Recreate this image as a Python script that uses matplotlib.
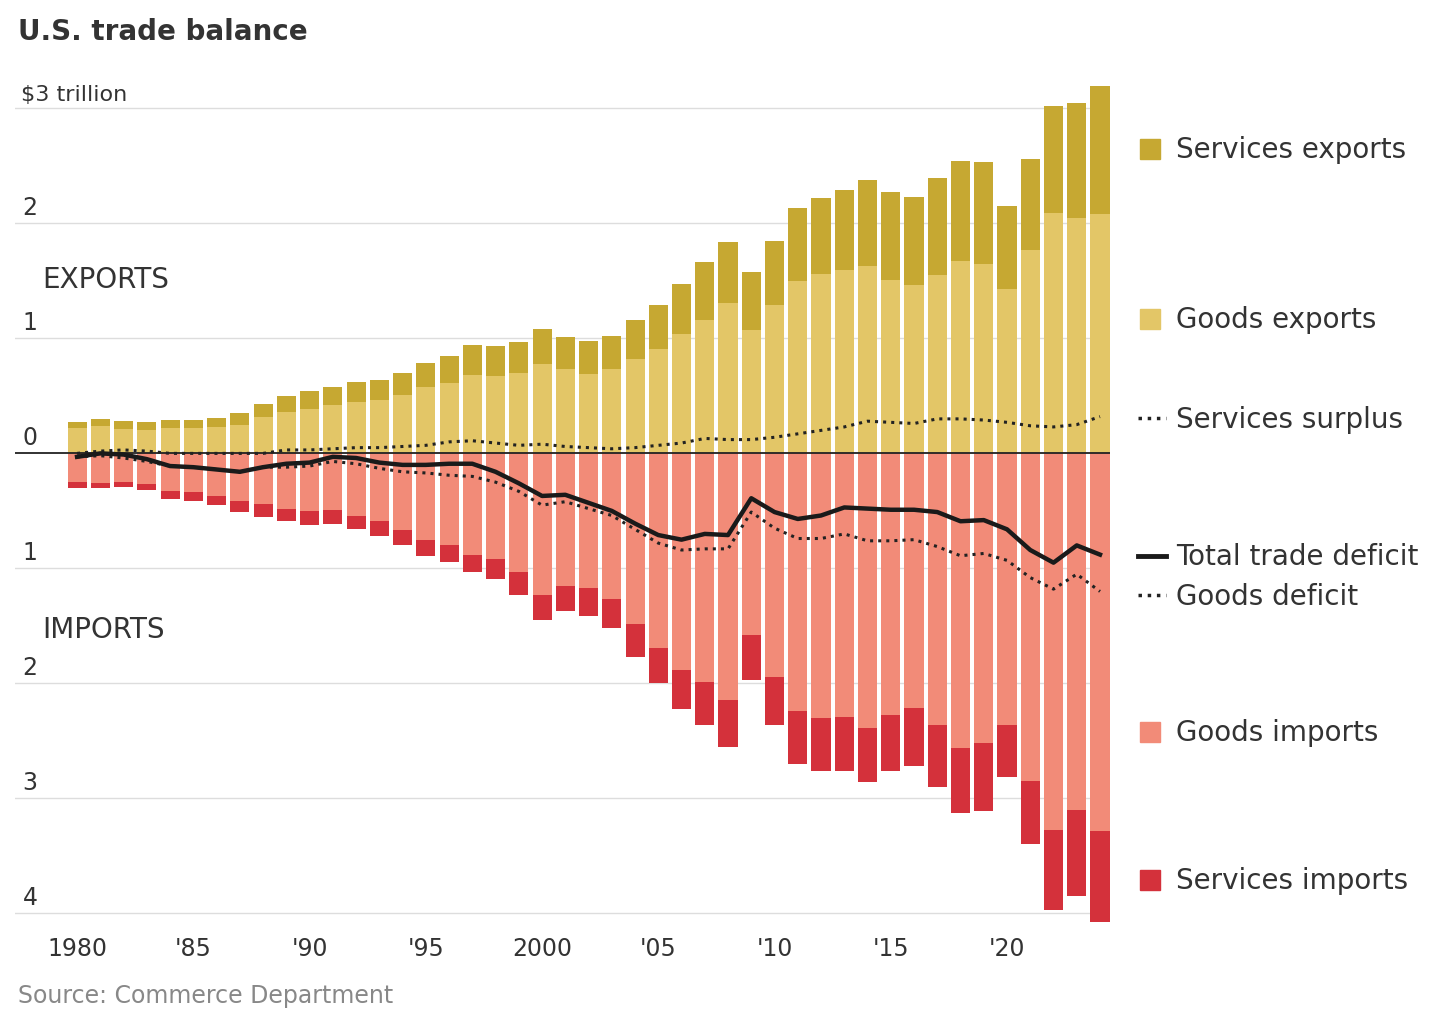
import numpy as np
import matplotlib; matplotlib.use('Agg')
import matplotlib.pyplot as plt

years = np.arange(1980, 2025)
# trillions of dollars
exports_total = [0.27,0.30,0.28,0.27,0.29,0.29,0.31,0.35,0.43,0.50,0.54,0.58,0.62,0.64,0.70,0.79,0.85,0.94,0.93,0.97,
                 1.08,1.01,0.98,1.02,1.16,1.29,1.47,1.66,1.84,1.58,1.85,2.13,2.22,2.29,2.38,2.27,2.23,2.39,2.54,2.53,
                 2.15,2.56,3.02,3.05,3.19]
goods_exports = [0.22,0.24,0.21,0.20,0.22,0.22,0.23,0.25,0.32,0.36,0.39,0.42,0.45,0.46,0.51,0.58,0.61,0.68,0.67,0.70,
                 0.78,0.73,0.69,0.73,0.82,0.91,1.04,1.16,1.31,1.07,1.29,1.50,1.56,1.59,1.63,1.51,1.46,1.55,1.67,1.65,
                 1.43,1.77,2.09,2.05,2.08]
goods_imports = [0.25,0.26,0.25,0.27,0.33,0.34,0.37,0.41,0.44,0.48,0.50,0.49,0.54,0.59,0.67,0.75,0.80,0.88,0.92,1.03,
                 1.23,1.15,1.17,1.27,1.48,1.69,1.88,1.99,2.14,1.58,1.94,2.24,2.30,2.29,2.39,2.27,2.21,2.36,2.56,2.52,
                 2.36,2.85,3.27,3.10,3.28]
imports_total = [0.30,0.30,0.29,0.32,0.40,0.41,0.45,0.51,0.55,0.59,0.62,0.61,0.66,0.72,0.80,0.89,0.94,1.03,1.09,1.23,
                 1.45,1.37,1.41,1.52,1.77,2.00,2.22,2.36,2.55,1.97,2.36,2.70,2.76,2.76,2.86,2.76,2.72,2.90,3.13,3.11,
                 2.81,3.40,3.97,3.85,4.07]

ex_t = np.array(exports_total); ex_g = np.array(goods_exports)
im_g = np.array(goods_imports); im_t = np.array(imports_total)
ex_s = ex_t - ex_g
im_s = im_t - im_g
services_surplus = ex_s - im_s
goods_deficit = ex_g - im_g
total_deficit = ex_t - im_t

C_SX, C_GX, C_GI, C_SI = '#c6a832', '#e3c667', '#f28b78', '#d4313b'

fig = plt.figure(figsize=(14.34, 10.2), dpi=100)
W, H = 1434, 1020
ax = fig.add_axes([15/W, 1-926/H, (1110-15)/W, (926-84)/H])
ax.set_xlim(1977.33, 2024.43)
ax.set_ylim(-4.1, 3.22)
for s in ax.spines.values():
    s.set_visible(False)
ax.set_yticks([]); ax.tick_params(axis='x', length=0, labelsize=17, colors='#333333', pad=8)

for v in [3, 2, 1, -1, -2, -3, -4]:
    ax.axhline(v, color='#dddddd', lw=1, zorder=0)
ylabels = {3: '$3 trillion', 2: '2', 1: '1', 0: '0', -1: '1', -2: '2', -3: '3', -4: '4'}
for v, lab in ylabels.items():
    ax.text(1977.65 if v != 3 else 1977.6, v + 0.04, lab.replace('$', r'\$'), fontsize=17 if v != 3 else 16,
            color='#333333', va='bottom', ha='left')

bw = 0.82
ax.bar(years, ex_g, bw, color=C_GX, zorder=2)
ax.bar(years, ex_s, bw, bottom=ex_g, color=C_SX, zorder=2)
ax.bar(years, -im_g, bw, color=C_GI, zorder=2)
ax.bar(years, -im_s, bw, bottom=-im_g, color=C_SI, zorder=2)
ax.axhline(0, color='#222222', lw=1.3, zorder=3)

ax.plot(years, services_surplus, ':', color='#222222', lw=2.2, zorder=4)
ax.plot(years, goods_deficit, ':', color='#222222', lw=2.2, zorder=4)
ax.plot(years, total_deficit, '-', color='#1a1a1a', lw=3.2, zorder=5)

ax.set_xticks([1980, 1985, 1990, 1995, 2000, 2005, 2010, 2015, 2020])
ax.set_xticklabels(['1980', "'85", "'90", "'95", '2000', "'05", "'10", "'15", "'20"])

ax.text(1978.5, 1.45, 'EXPORTS', fontsize=20, color='#333333')
ax.text(1978.5, -1.6, 'IMPORTS', fontsize=20, color='#333333')

fig.text(18/W, 1-32/H, 'U.S. trade balance', fontsize=20, fontweight='bold', color='#333333', va='center')
fig.text(18/W, 1-996/H, 'Source: Commerce Department', fontsize=17, color='#888888', va='center')

# right legend
def px(x, y):
    return x/W, 1-y/H
legend = [('sq', C_SX, 'Services exports', 150), ('sq', C_GX, 'Goods exports', 320),
          ('dot', None, 'Services surplus', 420), ('line', None, 'Total trade deficit', 557),
          ('dot', None, 'Goods deficit', 597), ('sq', C_GI, 'Goods imports', 733),
          ('sq', C_SI, 'Services imports', 881)]
for kind, col, lab, y in legend:
    if kind == 'sq':
        fig.patches.append(plt.Rectangle(px(1140, y + 10), 20/W, 20/H, color=col, transform=fig.transFigure))
    elif kind == 'dot':
        fig.add_artist(plt.Line2D([1138/W, 1166/W], [1-(y-1)/H]*2, ls=':', lw=2.5, color='#222222'))
    else:
        fig.add_artist(plt.Line2D([1138/W, 1166/W], [1-y/H]*2, lw=3.5, color='#1a1a1a'))
    fig.text(*px(1176, y), lab, fontsize=20, color='#333333', va='center')

fig.savefig('out.png', dpi=100)
